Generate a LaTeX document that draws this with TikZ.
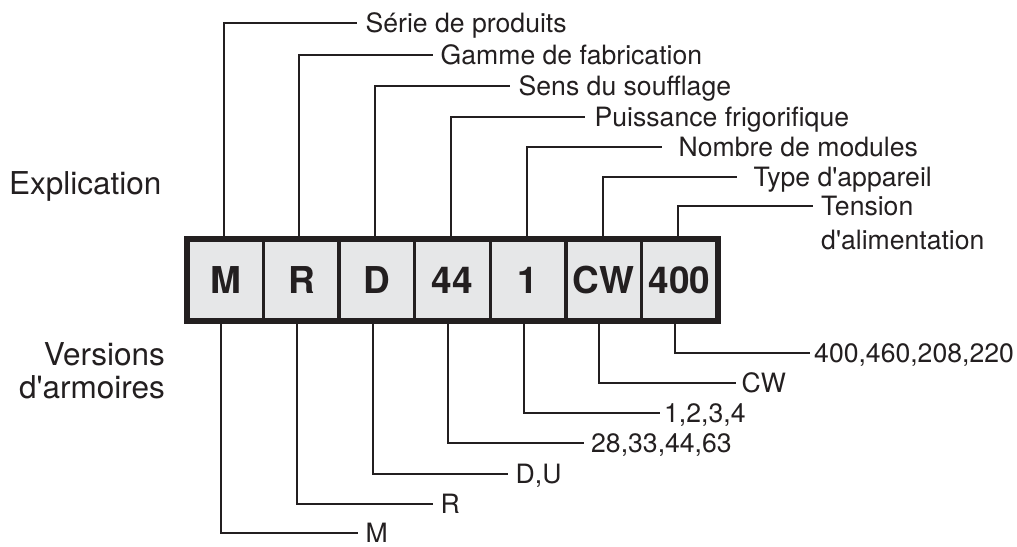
\documentclass[tikz,border=0pt]{standalone}
\usepackage{fontspec}
\setmainfont{TeX Gyre Heros}[Ligatures=TeXOff]
\definecolor{ink}{HTML}{231F20}
\definecolor{boxfill}{HTML}{E6E7E8}
\begin{document}
\begin{tikzpicture}[x=1pt,y=-1pt,
  conn/.style={draw=ink,line width=2pt},
  cell/.style={draw=ink,fill=boxfill,line width=3.5pt,minimum width=75.57pt,minimum height=80pt,inner sep=0pt,font=\fontsize{37}{37}\selectfont\bfseries,text=ink},
  lbl/.style={anchor=base west,inner sep=0pt,font=\fontsize{26.6}{34.5}\selectfont,text=ink},
  side/.style={inner sep=0pt,font=\fontsize{31.5}{33}\selectfont,text=ink}]
\useasboundingbox (0,0) rectangle (1017,546);
% code boxes
\node[cell] (b1) at (225.8,280) {M};
\node[cell] (b2) at (301.4,280) {R};
\node[cell] (b3) at (377.0,280) {D};
\node[cell] (b4) at (452.5,280) {44};
\node[cell] (b5) at (528.1,280) {1};
\node[cell] (b6) at (603.7,280) {CW};
\node[cell] (b7) at (679.3,280) {400};
\draw[ink,line width=4.5pt] (b1.north west) rectangle (b7.south east);
% side labels
\node[side,anchor=base west] (ex) at (9,194) {Explication};
\node[side,anchor=base east,align=right] (ve) at (165,398) {Versions\\d'armoires};
% top labels
\node[lbl] (t1) at (365.5,32.4) {Série de produits};
\node[lbl] (t2) at (440.5,64.4) {Gamme de fabrication};
\node[lbl] (t3) at (518.5,95.4) {Sens du soufflage};
\node[lbl] (t4) at (594.5,126.4) {Puissance frigorifique};
\node[lbl] (t5) at (678.5,156.4) {Nombre de modules};
\node[lbl] (t6) at (753.5,186.4) {Type d'appareil};
\node[lbl,align=left] (t7) at (821,249.9) {Tension\\d'alimentation};
\draw[conn] ([xshift=-2pt]b1.north) |- ([shift={(-8.5,-9.4)}]t1.base west);
\draw[conn] ([xshift=-2pt]b2.north) |- ([shift={(-7.5,-9.4)}]t2.base west);
\draw[conn] ([xshift=-2pt]b3.north) |- ([shift={(-8.5,-9.4)}]t3.base west);
\draw[conn] ([xshift=-1.5pt]b4.north) |- ([shift={(-9.5,-9.4)}]t4.base west);
\draw[conn] ([xshift=-1pt]b5.north) |- ([shift={(-16.5,-9.4)}]t5.base west);
\draw[conn] ([xshift=-1pt]b6.north) |- ([shift={(-16.5,-9.4)}]t6.base west);
\draw[conn] ([xshift=-1pt]b7.north) |- ([shift={(-8,-43.9)}]t7.base west);
% bottom labels
\node[lbl] (v7) at (814,362.4) {400,460,208,220};
\node[lbl] (v6) at (741.5,392.4) {CW};
\node[lbl] (v5) at (664,422.4) {1,2,3,4};
\node[lbl] (v4) at (591,452.4) {28,33,44,63};
\node[lbl] (v3) at (515.5,483.4) {D,U};
\node[lbl] (v2) at (440.5,513.4) {R};
\node[lbl] (v1) at (365.5,542.4) {M};
\draw[conn] ([xshift=-4.5pt]b1.south) |- ([shift={(-7.5,-9.4)}]v1.base west);
\draw[conn] ([xshift=-4.5pt]b2.south) |- ([shift={(-7.5,-9.4)}]v2.base west);
\draw[conn] ([xshift=-4.5pt]b3.south) |- ([shift={(-7.5,-9.4)}]v3.base west);
\draw[conn] ([xshift=-4.5pt]b4.south) |- ([shift={(-7,-9.4)}]v4.base west);
\draw[conn] ([xshift=-4.5pt]b5.south) |- ([shift={(-4,-9.4)}]v5.base west);
\draw[conn] ([xshift=-4.5pt]b6.south) |- ([shift={(-5.5,-9.4)}]v6.base west);
\draw[conn] ([xshift=-4pt]b7.south) |- ([shift={(-4,-9.4)}]v7.base west);
\end{tikzpicture}
\end{document}
